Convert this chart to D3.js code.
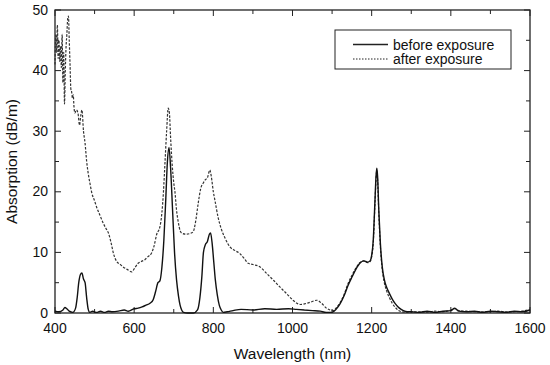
<!DOCTYPE html>
<html>
<head>
<meta charset="utf-8">
<script src="https://cdn.jsdelivr.net/npm/d3@7"></script>
<style>
  body { margin: 0; background: #fff; }
  svg text { font-family: "Liberation Sans", Arial, sans-serif; fill: #111; }
</style>
</head>
<body>
<svg width="550" height="365"></svg>
<script>
// ---------------- data ----------------
var beforeNm = [400,410,420,425,430,436,445,452,456,460,464,468,472,476,480,484,488,495,505,515,525,535,545,560,575,585,600,610,620,630,640,648,654,660,665,670,675,680,684,688,692,697,702,707,712,716,720,725,735,750,760,766,771,775,780,785,790,793,797,801,805,810,815,820,825,835,850,870,900,930,960,990,1010,1030,1050,1070,1085,1100,1110,1120,1130,1140,1150,1160,1170,1180,1190,1196,1200,1204,1208,1211,1213,1215,1218,1222,1227,1232,1238,1245,1252,1260,1270,1280,1290,1300,1320,1340,1360,1380,1400,1410,1420,1440,1460,1480,1500,1520,1540,1560,1580,1600];
var beforeAbs = [0.3,0.2,0.5,0.9,0.7,0.3,0.1,0.8,2.5,5.0,6.3,6.6,5.6,5.0,2.5,0.6,0.1,0.3,0.1,0.3,0.1,0.3,0.2,0.3,0.5,0.3,0.7,0.8,1.0,1.3,1.6,2.2,3.5,5.0,5.3,7.5,12,19,25,27.3,24,17,10,5.5,2.8,1.3,0.5,0.1,0,0,0.5,2.5,6,10,11.3,11.8,13.0,13.2,11.5,8.5,5.5,3,1.3,0.5,0.1,0.2,0.4,0.6,0.5,0.7,0.6,0.7,0.6,0.5,0.4,0.3,0.1,0.1,0.6,1.5,2.8,4.5,5.9,7.2,8.2,8.6,8.4,8.6,9.5,12,18,22.5,23.9,22.5,17,11.5,7.5,5.5,4.2,3.2,2.3,1.5,0.8,0.4,0.2,0.2,0.1,0.3,0.1,0.3,0.4,0.8,0.3,0.2,0.3,0.1,0.3,0.2,0.1,0.3,0.2,0.5];

var afterNm = [400,402,404,406,408,410,412,414,416,418,420,422,424,426,428,430,432,434,436,438,440,442,444,446,448,450,454,458,462,465,468,472,476,480,484,488,493,500,505,513,522,530,535,542,547,552,556,565,572,582,594,602,610,618,627,635,644,650,657,665,670,674,678,682,686,689,692,696,700,703,707,712,716,720,730,740,749,755,762,768,775,780,785,788,791,795,800,804,812,821,830,842,855,867,878,888,900,918,935,952,968,985,1000,1011,1020,1036,1050,1061,1072,1086,1095,1103,1110,1120,1130,1140,1150,1160,1170,1180,1190,1196,1200,1204,1208,1211,1213,1215,1218,1222,1227,1232,1238,1245,1252,1260,1268,1276,1285,1300,1320,1340,1360,1380,1400,1410,1420,1440,1460,1480,1500,1520,1540,1560,1580,1600];
var afterAbs = [41,46,43,47.5,42,45,41.5,44,40.5,46,38,43,34.5,40,44,46,48.5,49,45,41,37,36.5,35.5,36,34,33,33.5,33,31,32.5,33.5,30,28,25,23,21.5,19.8,18.5,17.5,16.2,14.8,13.8,13.2,11.5,10,9,8.5,8,7.6,7.2,6.8,7.5,8.2,8.5,8.8,9.3,9.9,11,13,14.2,16.5,20,25,30,33.8,33,29,24.5,21.5,20,17,14.8,13.6,13.2,13,13.1,13.4,15,18.2,20.5,21.5,22,22.3,23,23.6,22.5,20,18.6,15.8,13.7,12.3,10.9,10.3,9.8,9,8.2,8,7.6,6.5,5.4,4.3,3.2,2.2,1.6,1.4,1.6,1.9,2.1,1.7,0.8,0.5,0.4,0.8,1.7,3.0,4.8,6.2,7.4,8.3,8.6,8.3,8.5,9.3,11.5,17.5,22,23.5,22,16.5,11,7,5,3.6,2.5,1.6,0.9,0.4,0.2,0.1,0.2,0.2,0.1,0.3,0.2,0.5,0.7,0.4,0.3,0.2,0.2,0.2,0.3,0.2,0.2,0.3,0.6];

var xTicks = [400,600,800,1000,1200,1400,1600];
var yTicks = [0,10,20,30,40,50];
var seriesNames = ["before exposure","after exposure"];

// ---------------- layout ----------------
var m = {left: 55, right: 530, top: 10, bottom: 313};
var svg = d3.select('svg');

var x = d3.scaleLinear().domain([400,1600]).range([m.left,m.right]);
var y = d3.scaleLinear().domain([0,50]).range([m.bottom,m.top]);

var minorX = d3.range(400,1601,100);
var minorY = d3.range(0,51,5);

// frame
svg.append('rect')
   .attr('x',m.left).attr('y',m.top)
   .attr('width',m.right-m.left).attr('height',m.bottom-m.top)
   .style('fill','none').style('stroke','#222').style('stroke-width',1.3);

// ticks (inward, all four sides)
function tickLen(v,step){ return v % step === 0 ? 6 : 4; }
var tg = svg.append('g').style('stroke','#222').style('stroke-width',1);
minorX.forEach(v=>{
    var L = tickLen(v,200);
    tg.append('line').attr('x1',x(v)).attr('x2',x(v)).attr('y1',m.bottom).attr('y2',m.bottom-L);
    tg.append('line').attr('x1',x(v)).attr('x2',x(v)).attr('y1',m.top).attr('y2',m.top+L);
});
minorY.forEach(v=>{
    var L = tickLen(v,10);
    tg.append('line').attr('x1',m.left).attr('x2',m.left+L).attr('y1',y(v)).attr('y2',y(v));
    tg.append('line').attr('x1',m.right).attr('x2',m.right-L).attr('y1',y(v)).attr('y2',y(v));
});

// tick labels
svg.selectAll('.xl').data(xTicks).enter().append('text')
   .attr('x',d=>x(d)).attr('y',m.bottom+20)
   .attr('text-anchor','middle').style('font-size','14px')
   .text(d=>d);
svg.selectAll('.yl').data(yTicks).enter().append('text')
   .attr('x',m.left-7).attr('y',d=>y(d)+4.5)
   .attr('text-anchor','end').style('font-size','14px')
   .text(d=>d);

// axis titles
svg.append('text')
   .attr('x',(m.left+m.right)/2).attr('y',359)
   .attr('text-anchor','middle').style('font-size','15.5px')
   .text('Wavelength (nm)');
svg.append('text')
   .attr('transform','translate(17,'+((m.top+m.bottom)/2)+') rotate(-90)')
   .attr('text-anchor','middle').style('font-size','15.5px')
   .text('Absorption (dB/m)');

// curves
var line = d3.line().x(d=>x(d[0])).y(d=>y(d[1])).curve(d3.curveMonotoneX);
svg.append('path')
   .datum(afterNm.map((v,i)=>[v,afterAbs[i]]))
   .attr('d',line)
   .style('fill','none').style('stroke','#333').style('stroke-width',1.2)
   .style('stroke-dasharray','2.5,1.5');
svg.append('path')
   .datum(beforeNm.map((v,i)=>[v,beforeAbs[i]]))
   .attr('d',line)
   .style('fill','none').style('stroke','#111').style('stroke-width',1.4);

// legend
var lg = svg.append('g');
lg.append('rect').attr('x',335).attr('y',30).attr('width',176).attr('height',39)
  .style('fill','#fff').style('stroke','#222').style('stroke-width',1);
seriesNames.forEach((name,i)=>{
    var yy = 44.5 + i*14.5;
    lg.append('line').attr('x1',353).attr('x2',388).attr('y1',yy).attr('y2',yy)
      .style('stroke','#222').style('stroke-width',i ? 1 : 1.3)
      .style('stroke-dasharray',i ? '1.5,1.5' : null);
    lg.append('text').attr('x',393).attr('y',yy+5)
      .style('font-size','14px').text(name);
});
</script>
</body>
</html>
